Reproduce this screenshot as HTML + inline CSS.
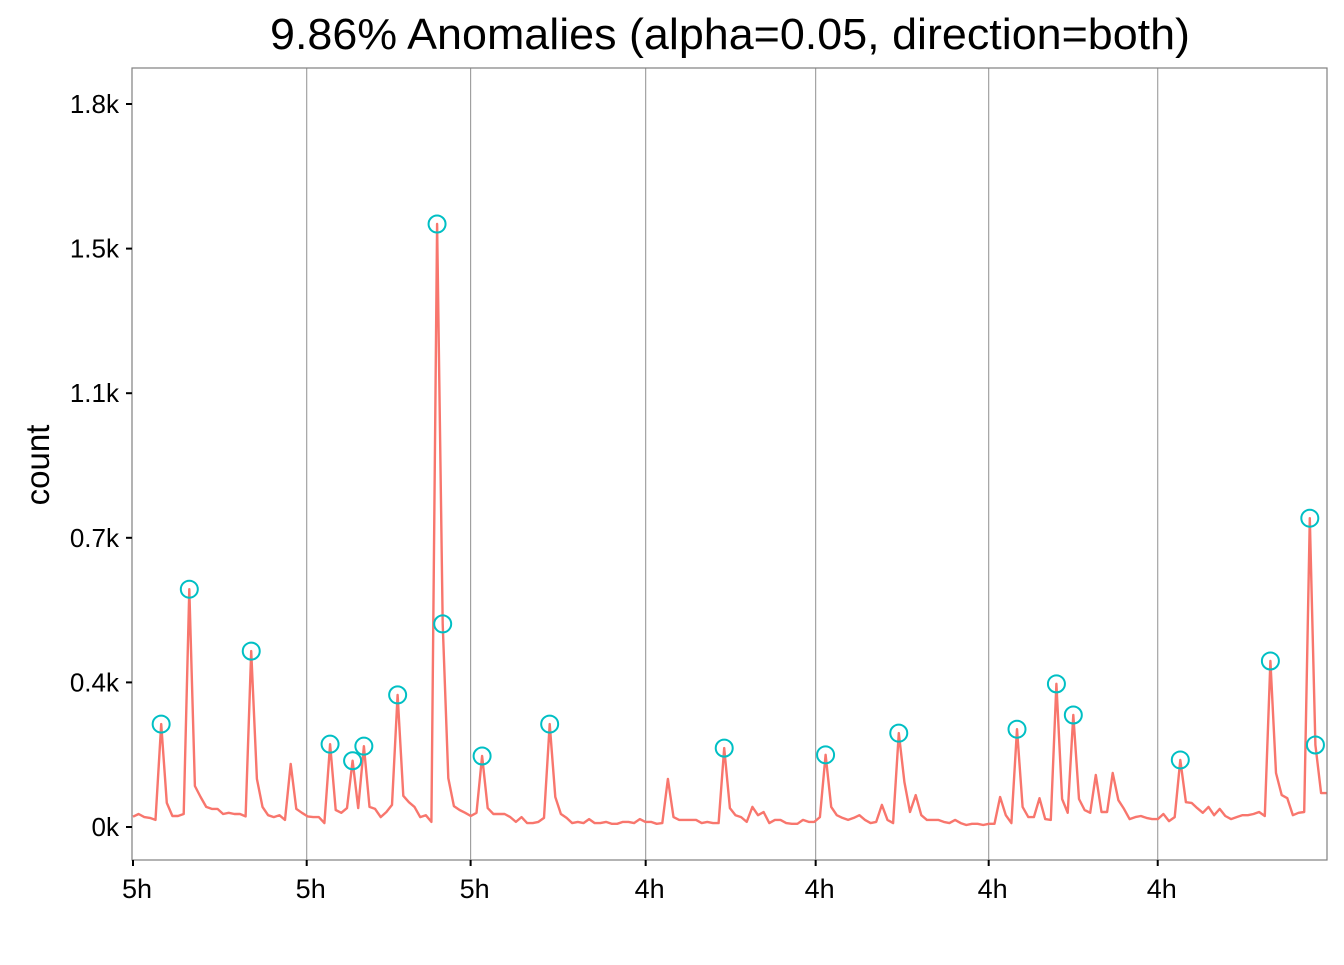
<!DOCTYPE html>
<html><head><meta charset="utf-8"><style>
body{margin:0;background:#fff;}
svg text{font-family:"Liberation Sans",Arial,sans-serif;}
</style></head><body>
<svg id="chart" width="1344" height="960" xmlns="http://www.w3.org/2000/svg">
<rect width="1344" height="960" fill="#fff"/>
<text x="730" y="49" font-size="44" text-anchor="middle" fill="#000" textLength="920" lengthAdjust="spacingAndGlyphs">9.86% Anomalies (alpha=0.05, direction=both)</text>
<text transform="translate(49,465) rotate(-90)" font-size="33" text-anchor="middle" fill="#000">count</text>
<g id="grid"></g>
<g id="series"></g>
<g id="points"></g>
<rect x="132" y="68" width="1195" height="792" fill="none" stroke="#808080" stroke-width="1.2"/>
<g id="axes"></g>
</svg>
<script>
const counts = [26,33,25,23,18,261,61,28,28,33,603,104,76,51,46,46,33,36,33,33,27,446,122,51,30,25,30,18,160,46,36,27,25,25,10,210,43,36,48,168,48,205,51,46,25,38,56,335,79,63,51,25,30,13,1529,515,124,53,43,36,28,36,180,48,33,33,33,25,13,25,10,10,13,23,261,76,33,23,10,13,10,20,10,10,13,8,8,13,13,10,20,13,13,8,10,122,25,18,18,18,18,10,13,10,10,200,48,30,25,13,51,30,38,10,18,18,10,8,8,18,13,13,25,183,51,30,23,18,23,30,18,10,13,56,18,10,238,114,38,81,30,18,18,18,13,10,18,10,5,8,8,5,8,8,76,30,10,248,51,25,25,73,20,18,363,71,36,284,71,43,36,132,38,38,137,68,46,20,25,28,23,20,20,33,15,25,170,63,61,48,36,51,30,46,28,20,25,30,30,33,38,28,421,137,81,73,30,36,38,783,208,86,86];
const anomalyIdx = [5,10,21,35,39,41,47,54,55,62,74,105,123,136,157,164,167,186,202,209,210];
const yTicks = [0,366.67,733.33,1100,1466.67,1833.33];
const yTickLabels = ["0k","0.4k","0.7k","1.1k","1.5k","1.8k"];
const xTicks = [0,30.85,59.96,91.05,121.24,151.97,181.99];
const xTickLabels = ["5h","5h","5h","4h","4h","4h","4h"];

const NS="http://www.w3.org/2000/svg";
const X0=133, X1=1326.7, N=counts.length;
function xs(i){return X0+i*(X1-X0)/(N-1);}
function ys(v){return 827-v*(144.6/366.67);}
function mk(tag,attrs,parent){const e=document.createElementNS(NS,tag);for(const k in attrs)e.setAttribute(k,attrs[k]);document.getElementById(parent).appendChild(e);return e;}

xTicks.forEach((t,i)=>{
  const x=xs(t);
  if(i>0){const g=mk('line',{x1:x,x2:x,y1:68,y2:860,stroke:'#9a9a9a','stroke-width':1.1},'grid');
  
  }
  const tk=mk('line',{x1:x,x2:x,y1:860,y2:866,stroke:'#000','stroke-width':2},'axes');
  
  
  const tx=mk('text',{x:x+4,y:898,'font-size':27,'text-anchor':'middle',fill:'#000'},'axes');
  
  
  tx.textContent=xTickLabels[i];
});
yTicks.forEach((t,i)=>{
  const y=ys(t);
  const tk=mk('line',{x1:126,x2:132,y1:y,y2:y,stroke:'#000','stroke-width':2},'axes');
  
  
  const tx=mk('text',{x:119,y:y+9,'font-size':26,'text-anchor':'end',fill:'#000'},'axes');
  
  
  tx.textContent=yTickLabels[i];
});
const d=counts.map((v,i)=>(i?'L':'M')+xs(i).toFixed(1)+','+ys(v).toFixed(1)).join(' ');
const p=mk('path',{d:d,fill:'none',stroke:'#F8766D','stroke-width':2.4,'stroke-linejoin':'round'},'series');


anomalyIdx.forEach(i=>{
  const c=mk('circle',{cx:xs(i),cy:ys(counts[i]),r:8.5,fill:'none',stroke:'#00BFC4','stroke-width':2},'points');
  
  
});
</script>
</body></html>
